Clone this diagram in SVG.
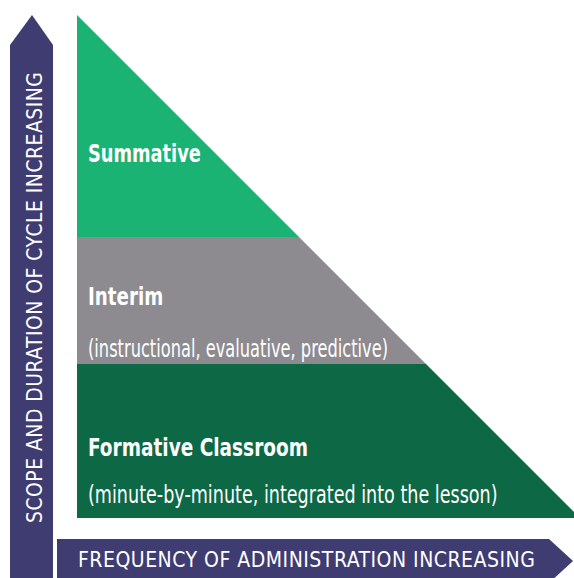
<svg xmlns="http://www.w3.org/2000/svg" width="574" height="578" viewBox="0 0 574 578">
<style>
.t{font-family:"Liberation Sans Narrow","DejaVu Sans Condensed","Liberation Sans",sans-serif;fill:#ffffff}
.b{font-weight:bold;font-size:25px}
.r{font-size:25px}
.ax{font-size:21px;letter-spacing:0.5px}
</style>
<rect width="574" height="578" fill="#ffffff"/>
<g id="connectors">
<polygon id="axis-y" points="32,15 53,45 53,582 10,582 10,45" fill="#3f3c72"/>
<polygon id="axis-x" points="57,539 549,539 573,561 549,583 57,583" fill="#3f3c72"/>
</g>
<g id="summative">
<polygon points="77,15 299,237 77,237" fill="#1bb373"/>
<text class="t b" transform="translate(88,162) scale(0.8,1)" textLength="141" lengthAdjust="spacingAndGlyphs">Summative</text>
</g>
<g id="interim">
<polygon points="77,237 299,237 426,364 77,364" fill="#8d8b90"/>
<text class="t b" transform="translate(88,305) scale(0.8,1)" textLength="94" lengthAdjust="spacingAndGlyphs">Interim</text>
<text class="t r" transform="translate(88,357) scale(0.8,1)" textLength="375" lengthAdjust="spacingAndGlyphs">(instructional, evaluative, predictive)</text>
</g>
<g id="formative">
<polygon points="77,364 426,364 574,512 574,518 77,518" fill="#0d6846"/>
<text class="t b" transform="translate(88,456) scale(0.8,1)" textLength="275" lengthAdjust="spacingAndGlyphs">Formative Classroom</text>
<text class="t r" transform="translate(88,503) scale(0.8,1)" textLength="512" lengthAdjust="spacingAndGlyphs">(minute-by-minute, integrated into the lesson)</text>
</g>
<g id="labels">
<text class="t ax" transform="translate(42,523) rotate(-90) scale(0.85,1)" textLength="531" lengthAdjust="spacingAndGlyphs">SCOPE AND DURATION OF CYCLE INCREASING</text>
<text class="t ax" transform="translate(78,567) scale(0.85,1)" textLength="538" lengthAdjust="spacingAndGlyphs">FREQUENCY OF ADMINISTRATION INCREASING</text>
</g>
</svg>
